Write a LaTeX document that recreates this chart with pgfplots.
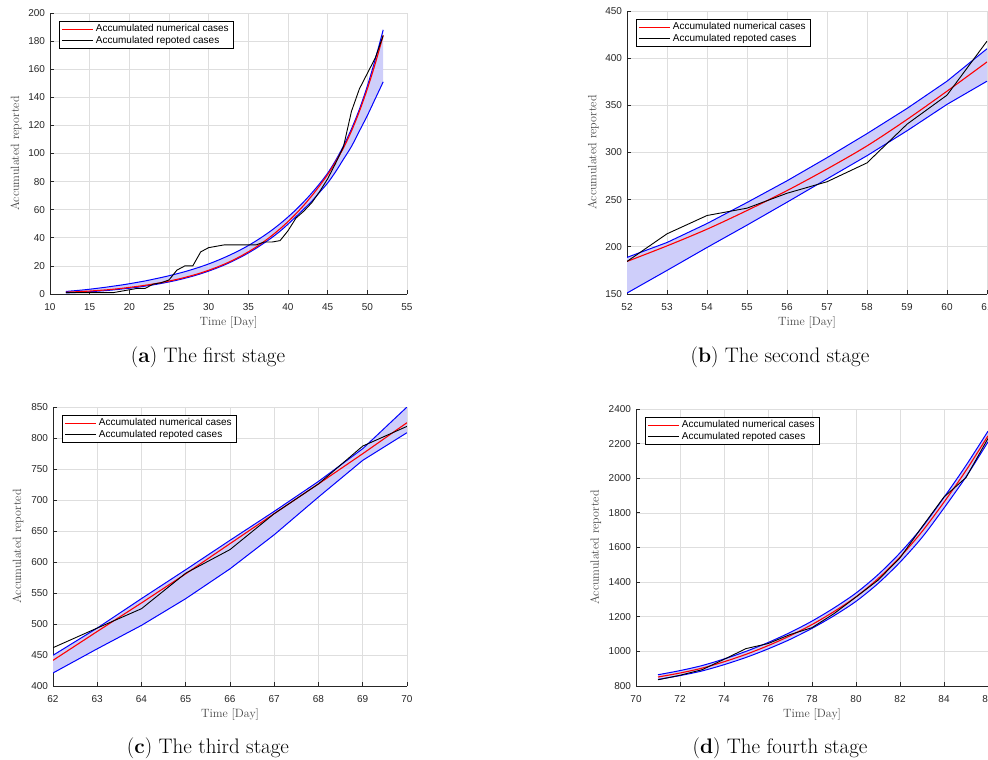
\documentclass[border=0pt]{standalone}
\usepackage{fontspec}
\usepackage{pgfplots}
\usepackage{pgfplotstable}
\pgfplotsset{compat=1.18}
\usepgfplotslibrary{fillbetween}
\newfontfamily\arial{Liberation Sans}
\definecolor{bandfill}{RGB}{206,206,250}
\definecolor{axgray}{RGB}{38,38,38}
\definecolor{gridgray}{RGB}{222,222,222}
\definecolor{labgray}{RGB}{70,70,70}

\pgfplotstableread{
x red up lo rep
12 1.3 1.8 0.8 1
13 1.5 2.3 1.0 1
14 1.8 2.8 1.3 1
15 2.1 3.4 1.6 1
16 2.5 4.1 2.0 1
17 2.9 4.8 2.4 1
18 3.4 5.6 2.9 1
19 4.0 6.4 3.5 2
20 4.7 7.3 4.1 3
21 5.4 8.3 4.8 4
22 6.2 9.3 5.6 4
23 7.1 10.5 6.5 7
24 8.1 11.7 7.5 8
25 9.2 13.0 8.6 10
26 10.4 14.4 9.8 17
27 11.8 15.9 11.2 20
28 13.3 17.6 12.7 20
29 15.0 19.4 14.4 30
30 16.9 21.4 16.3 33
31 19.0 23.6 18.4 34
32 21.3 26.0 20.7 35
33 23.9 28.6 23.3 35
34 26.8 31.4 26.1 35
35 30.0 34.5 29.2 35
36 33.5 37.9 32.6 35
37 37.4 41.6 36.3 37
38 41.7 45.6 40.3 37
39 46.4 50.0 44.7 38
40 51.5 54.8 49.7 45
41 57.1 60.0 55.0 54
42 63.2 65.7 60.5 59
43 69.9 71.9 66.0 65
44 77.2 78.6 72.5 73
45 85.0 86.0 79.0 82
46 94.0 95.0 87.0 93
47 104.0 105.5 96.0 105
48 116.0 117.5 105.0 130
49 130.0 131.5 116.0 146
50 146.0 148.0 127.0 157
51 164.0 167.0 139.0 168
52 184.0 188.0 151.0 184
}\stageA

\pgfplotstableread{
x red up lo rep
52 184.5 188.8 151.0 184.5
53 201.0 204.6 175.0 213.8
54 218.7 224.7 199.3 233.2
55 238.5 247.0 223.0 241.0
56 259.6 270.0 247.3 256.8
57 282.5 294.5 272.0 269.0
58 307.0 320.0 296.6 289.0
59 335.0 346.7 323.0 330.0
60 365.0 375.6 351.0 360.8
61 396.0 410.0 375.6 418.0
}\stageB

\pgfplotstableread{
x red up lo rep
62 441.4 449.5 421.0 461.8
63 488.0 493.5 460.0 493.5
64 534.0 541.0 497.8 524.7
65 581.0 587.6 540.9 582.0
66 629.6 635.0 589.0 620.0
67 678.0 681.7 644.0 678.0
68 726.0 730.0 704.8 726.0
69 774.7 782.8 764.0 787.0
70 824.7 850.0 808.6 818.8
}\stageC

\pgfplotstableread{
x red up lo rep
71 852 865 838 836
72 875 889 860 862
73 903 918 887 894
74 940 956 923 954
75 983 1000 965 1016
76 1033 1051 1014 1045
77 1090 1109 1069 1097
78 1155 1175 1133 1137
79 1230 1251 1206 1218
80 1315 1337 1289 1314
81 1420 1443 1392 1411
82 1545 1569 1515 1540
83 1692 1716 1658 1719
84 1862 1890 1828 1892
85 2045 2074 2008 2004
86 2245 2272 2210 2230
}\stageD

\pgfplotsset{
  stage/.style={
    scale only axis,
    axis x line*=bottom, axis y line*=left,
    axis line style={axgray, line width=0.8pt},
    tick align=inside, major tick length=4pt,
    tick style={axgray, line width=0.8pt},
    grid=major, major grid style={gridgray, line width=0.7pt},
    ticklabel style={font=\arial\fontsize{10}{12}\selectfont, text=axgray},
    xticklabel style={yshift=-6pt},
    yticklabel style={xshift=-1.5pt},
    /pgf/number format/assume math mode=true,
    /pgf/number format/1000 sep={},
    xlabel={Time [Day]}, ylabel={Accumulated reported},
    label style={font=\fontsize{12}{14}\selectfont, text=labgray},
    xlabel style={at={(axis description cs:0.5,0)}, anchor=center, yshift=-28pt},
    legend style={font=\arial\fontsize{10}{12.6}\selectfont,
      at={(0,1)}, anchor=north west, xshift=9pt, yshift=-8pt,
      inner xsep=2pt, inner ysep=1.5pt, row sep=-1pt, cells={anchor=west}},
    legend image post style={xscale=1.85},
  },
}

\begin{document}
\begin{tikzpicture}

\begin{axis}[stage, at={(50pt,-294pt)}, anchor=south west, width=357pt, height=281pt,
  xmin=10, xmax=55, ymin=0, ymax=200, xtick={10,15,...,55}, ytick={0,20,...,200},
  ylabel style={at={(axis description cs:-0.095,0.5)}, anchor=center}]
\addplot[forget plot, draw=none, name path=Ua] table[x=x,y=up] {\stageA};
\addplot[forget plot, draw=none, name path=La] table[x=x,y=lo] {\stageA};
\addplot[forget plot, bandfill] fill between[of=Ua and La];
\addplot[forget plot, blue, line width=1pt, smooth] table[x=x,y=up] {\stageA};
\addplot[forget plot, blue, line width=1pt, smooth] table[x=x,y=lo] {\stageA};
\addplot[red, line width=1.1pt, smooth] table[x=x,y=red] {\stageA};
\addplot[black, line width=0.9pt] table[x=x,y=rep] {\stageA};
\legend{Accumulated numerical cases, Accumulated repoted cases}
\end{axis}

\begin{axis}[stage, at={(627pt,-294pt)}, anchor=south west, width=360pt, height=283pt,
  xmin=52, xmax=61, ymin=150, ymax=450, xtick={52,...,61}, ytick={150,200,...,450},
  ylabel style={at={(axis description cs:-0.094,0.5)}, anchor=center}]
\addplot[forget plot, draw=none, name path=Ub] table[x=x,y=up] {\stageB};
\addplot[forget plot, draw=none, name path=Lb] table[x=x,y=lo] {\stageB};
\addplot[forget plot, bandfill] fill between[of=Ub and Lb];
\addplot[forget plot, blue, line width=1pt] table[x=x,y=up] {\stageB};
\addplot[forget plot, blue, line width=1pt] table[x=x,y=lo] {\stageB};
\addplot[red, line width=1.1pt, smooth] table[x=x,y=red] {\stageB};
\addplot[black, line width=0.9pt] table[x=x,y=rep] {\stageB};
\legend{Accumulated numerical cases, Accumulated repoted cases}
\end{axis}

\begin{axis}[stage, at={(53pt,-686pt)}, anchor=south west, width=354pt, height=279pt,
  xmin=62, xmax=70, ymin=400, ymax=850, xtick={62,...,70}, ytick={400,450,...,850},
  ylabel style={at={(axis description cs:-0.099,0.5)}, anchor=center}]
\addplot[forget plot, draw=none, name path=Uc] table[x=x,y=up] {\stageC};
\addplot[forget plot, draw=none, name path=Lc] table[x=x,y=lo] {\stageC};
\addplot[forget plot, bandfill] fill between[of=Uc and Lc];
\addplot[forget plot, blue, line width=1pt] table[x=x,y=up] {\stageC};
\addplot[forget plot, blue, line width=1pt] table[x=x,y=lo] {\stageC};
\addplot[red, line width=1.1pt] table[x=x,y=red] {\stageC};
\addplot[black, line width=0.9pt] table[x=x,y=rep] {\stageC};
\legend{Accumulated numerical cases, Accumulated repoted cases}
\end{axis}

\begin{axis}[stage, at={(636pt,-686pt)}, anchor=south west, width=352pt, height=277pt,
  xmin=70, xmax=86, ymin=800, ymax=2400, xtick={70,72,...,86}, ytick={800,1000,...,2400},
  ylabel style={at={(axis description cs:-0.114,0.5)}, anchor=center}]
\addplot[forget plot, draw=none, name path=Ud] table[x=x,y=up] {\stageD};
\addplot[forget plot, draw=none, name path=Ld] table[x=x,y=lo] {\stageD};
\addplot[forget plot, bandfill] fill between[of=Ud and Ld];
\addplot[forget plot, blue, line width=1pt, smooth] table[x=x,y=up] {\stageD};
\addplot[forget plot, blue, line width=1pt, smooth] table[x=x,y=lo] {\stageD};
\addplot[red, line width=1.1pt, smooth] table[x=x,y=red] {\stageD};
\addplot[black, line width=0.9pt] table[x=x,y=rep] {\stageD};
\legend{Accumulated numerical cases, Accumulated repoted cases}
\end{axis}

\node[font=\fontsize{21}{25}\selectfont, anchor=base] at (208pt,-362pt) {(\textbf{a}) The first stage};
\node[font=\fontsize{21}{25}\selectfont, anchor=base] at (780pt,-362pt) {(\textbf{b}) The second stage};
\node[font=\fontsize{21}{25}\selectfont, anchor=base] at (208pt,-753pt) {(\textbf{c}) The third stage};
\node[font=\fontsize{21}{25}\selectfont, anchor=base] at (780pt,-753pt) {(\textbf{d}) The fourth stage};

\pgfresetboundingbox
\path[use as bounding box] (0pt,0pt) rectangle (988pt,-760pt);
\end{tikzpicture}
\end{document}
